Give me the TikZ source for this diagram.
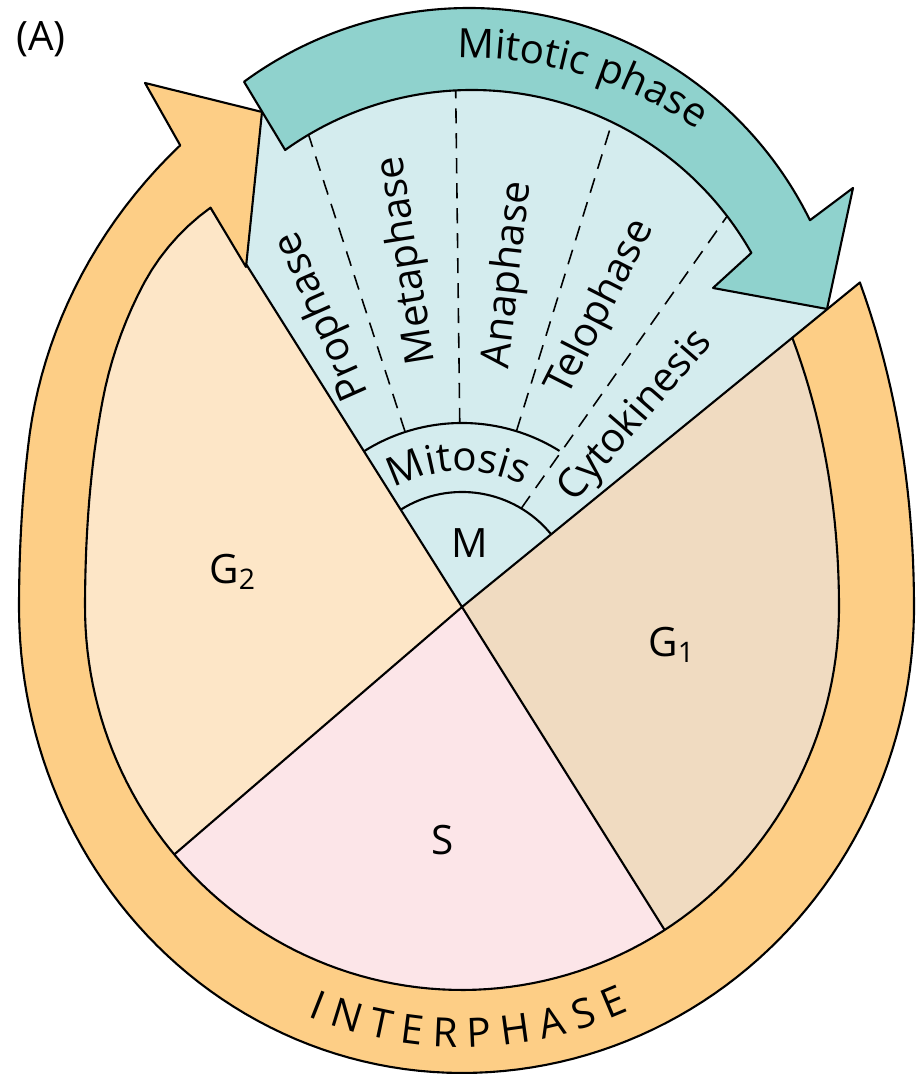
\documentclass[tikz,border=0pt]{standalone}
\usepackage{fontspec}
\setmainfont{Open Sans}
\usepackage{tikz}
\usetikzlibrary{calc, decorations.text}
\definecolor{mitarrow}{RGB}{143,210,205}
\definecolor{mitfill}{RGB}{212,236,238}
\definecolor{interring}{RGB}{253,206,134}
\definecolor{gtwo}{RGB}{253,230,199}
\definecolor{sphase}{RGB}{252,229,232}
\definecolor{gone}{RGB}{240,219,193}

\begin{document}
\begin{tikzpicture}[
  x=0.01cm, y=0.01cm,
  outline/.style={draw=black, line width=0.6pt, line join=round},
  dashline/.style={black, line width=0.45pt, dash pattern=on 4.3pt off 2.8pt},
  lbl/.style={font=\fontsize{11.5}{13}\selectfont, inner sep=0pt},
  radlbl/.style={lbl, anchor=center},
  declare function={
    sq(\a)=(\a)*(\a);
    rin(\u)=377+6*sq(max(cos(\u+90),0))+0.032*sq(max(\u,0))
      +0.042*sq(min(max(-180-\u,0),30))+2.52*max(-210-\u,0)
      -0.079*sq(max(-225-\u,0));
    rout(\u)=452+14*sq(max(cos(\u+90),0))-9*sq(max(-cos(\u),0))
      +0.04*sq(max(\u,0))
      +0.045*sq(min(max(-180-\u,0),20))+1.9*max(-200-\u,0);
  }
]
\useasboundingbox (0,0) rectangle (918,1074);

% Key points
\coordinate (c) at (462,467);
\path (c) ++(122.2:{rin(-237.8)}) coordinate (tipG);
\coordinate (gm) at (792,736);
\path (c) ++(220.7:{rin(-139.3)}) coordinate (gs);
\path (c) ++(-57.9:{rin(-57.9)}) coordinate (sg);

% Mitotic wedge
\fill[mitfill] (c) -- (gm) -- (827,765)
  -- ($(472,663)+(29.5:321)$) arc[start angle=29.5, end angle=125.6, radius=321]
  -- (262,962) -- (246,807) -- cycle;

% Interphase sectors
\begin{scope}
  \clip (c) -- plot[domain=-237.8:39.2, samples=140, variable=\u]
    ({462+rin(\u)*cos(\u)}, {467+rin(\u)*sin(\u)}) -- cycle;
  \fill[gtwo] (c) -- ($(c)!3!(tipG)$) -- ($(c)!3!(gs)$) -- cycle;
  \fill[sphase] (c) -- ($(c)!3!(gs)$) -- ($(c)!3!(sg)$) -- cycle;
  \fill[gone] (c) -- ($(c)!3!(sg)$) -- ($(c)!3!(gm)$) -- cycle;
\end{scope}
\draw[outline] (tipG) -- (c) -- (gm);
\draw[outline] (gs) -- (c) -- (sg);

% Mitosis and M arcs
\draw[outline] (c) ++(122.2:115) arc[start angle=122.2, end angle=39.2, radius=115];
\draw[outline] (c) ++(122.2:184) arc[start angle=122.2, end angle=58, radius=184];

% Dashed dividers
\draw[dashline] ($(c)+(108:184)$) -- ($(c)+(108:530)$);
\draw[dashline] ($(c)+(90.7:184)$) -- ($(c)+(90.7:530)$);
\draw[dashline] ($(c)+(72.8:184)$) -- ($(c)+(72.8:530)$);
\draw[dashline] ($(c)+(59:115)$) -- (735,869);

% Stage labels
\node[radlbl, rotate=114] (pro) at (323,758) {Prophase};
\node[radlbl, rotate=99] (meta) at (408,814) {Metaphase};
\node[radlbl, rotate=83.5] (ana) at (509,799) {Anaphase};
\node[radlbl, rotate=63] (telo) at (601,766) {Telophase};
\node[radlbl, rotate=49] (cyto) at (636,658) {Cytokinesis};
\node[lbl] (mlbl) at (470,531) {M};
\path[decorate, decoration={text along path, text align=center,
  text={|\fontsize{11.5}{13}\selectfont|Mitosis}}]
  (c) ++(121:136) arc[start angle=121, end angle=62, radius=136];

% Interphase ring
\filldraw[outline, fill=interring] (gm)
  -- plot[domain=39.2:-238.6, samples=160, variable=\u]
    ({462+rout(\u)*cos(\u)}, {467+rout(\u)*sin(\u)})
  -- (145,991) -- (262,962) -- (246,807) -- (tipG)
  -- plot[domain=-237.8:39.2, samples=160, variable=\u]
    ({462+rin(\u)*cos(\u)}, {467+rin(\u)*sin(\u)})
  -- cycle;

% Mitotic phase arrow
\filldraw[outline, fill=mitarrow]
  (469,686) ++(126.3:380) arc[start angle=126.3, end angle=26.2, radius=380]
  -- (853,886) -- (827,765) -- (713,786)
  -- ($(472,663)+(29.5:321)$) arc[start angle=29.5, end angle=125.6, radius=321]
  -- cycle;

% Curved titles
\path[decorate, decoration={text along path, text align=left,
  text={|\fontsize{11.5}{13}\selectfont|Mitotic phase}}]
  (465,604) ++(91:412) arc[start angle=91, end angle=40, radius=412];
\path[decorate, decoration={text along path, text align=center,
  text={|\fontsize{11.5}{13}\selectfont|I N T E R P H A S E}}]
  (462,432) ++(241:405) arc[start angle=241, end angle=301, radius=405];

% Phase labels
\node[lbl] (gtwolbl) at (233,502) {G\textsubscript{2}};
\node[lbl] (slbl) at (443,234) {S};
\node[lbl] (gonelbl) at (672,429) {G\textsubscript{1}};
\node[lbl] (panel) at (41,1035) {(A)};
\end{tikzpicture}
\end{document}
